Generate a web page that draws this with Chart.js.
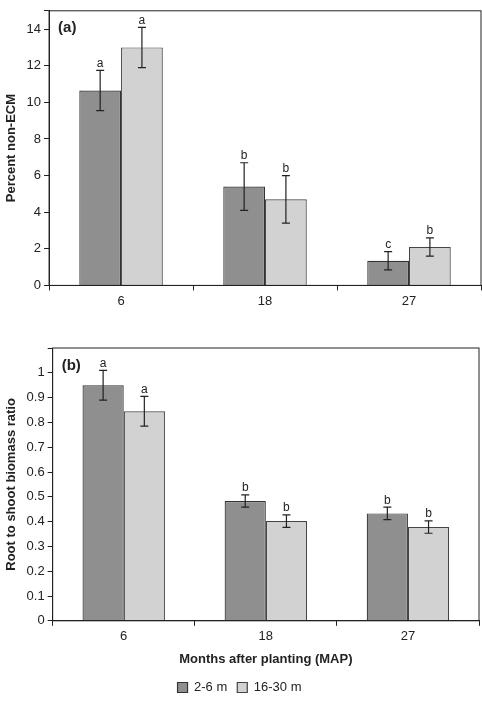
<!DOCTYPE html><html><head><style>body{margin:0;background:#fff}#a{position:absolute;left:0;top:0}#b{position:absolute;left:0;top:328px}</style>
<script src="https://cdn.jsdelivr.net/npm/chart.js@4"></script></head><body>
<div id="a" style="width:482px;height:312px"><canvas id="c1"></canvas></div>
<div id="b" style="width:482px;height:376px"><canvas id="c2"></canvas></div>
<script>
const categories=['6','18','27'];
const seriesNames=['2-6 m','16-30 m'];
const pctDark=[10.65,5.4,1.35], pctDarkErr=[1.1,1.3,0.5], pctDarkLet=['a','b','c'];
const pctLight=[13.0,4.7,2.1], pctLightErr=[1.1,1.3,0.5], pctLightLet=['a','b','b'];
const rsDark=[0.95,0.483,0.433], rsDarkErr=[0.06,0.025,0.025], rsDarkLet=['a','b','b'];
const rsLight=[0.845,0.402,0.378], rsLightErr=[0.06,0.025,0.025], rsLightLet=['a','b','b'];
const F='Liberation Sans, Arial, sans-serif';
Chart.defaults.font.family=F;Chart.defaults.color='#222';Chart.defaults.animation=false;
const errPlugin={id:'err',afterDatasetsDraw(ch,a,o){const c=ch.ctx,y=ch.scales.y;c.save();
 ch.data.datasets.forEach((ds,i)=>{ch.getDatasetMeta(i).data.forEach((b,j)=>{const v=ds.data[j],e=ds.err[j];
 const t=y.getPixelForValue(v+e),bt=y.getPixelForValue(v-e);c.strokeStyle='#222';c.lineWidth=1.2;c.beginPath();
 c.moveTo(b.x,t);c.lineTo(b.x,bt);c.moveTo(b.x-4,t);c.lineTo(b.x+4,t);c.moveTo(b.x-4,bt);c.lineTo(b.x+4,bt);c.stroke();
 c.fillStyle='#222';c.font='12px '+F;c.textAlign='center';c.textBaseline='bottom';c.fillText(ds.lets[j],b.x,t-1);});});
 const ar=ch.chartArea;c.strokeStyle='#222';c.lineWidth=1;c.strokeRect(ar.left,ar.top,ar.right-ar.left,ar.bottom-ar.top);
 c.font='bold 15px '+F;c.textAlign='left';c.textBaseline='top';c.fillText(o.label,ar.left+9,ar.top+10);c.restore();}};
function mk(id,d1,e1,l1,d2,e2,l2,max,step,maxLbl,ytitle,xtitle,legend,label,pad){
 return new Chart(document.getElementById(id),{type:'bar',data:{labels:categories,datasets:[
 {label:seriesNames[0],data:d1,err:e1,lets:l1,backgroundColor:'#8f8f8f',borderColor:'#333',borderWidth:1.2,categoryPercentage:0.58,barPercentage:1},
 {label:seriesNames[1],data:d2,err:e2,lets:l2,backgroundColor:'#d2d2d2',borderColor:'#444',borderWidth:1.2,categoryPercentage:0.58,barPercentage:1}]},
 options:{responsive:true,maintainAspectRatio:false,layout:{padding:pad},
 plugins:{legend:{display:legend,position:'bottom',labels:{boxWidth:10,boxHeight:10,font:{size:13},color:'#222'}},tooltip:{enabled:false},err:{label}},
 scales:{x:{grid:{display:true,drawOnChartArea:false,tickLength:5,offset:true,color:'#222'},border:{color:'#222'},ticks:{font:{size:13},color:'#222'},
  title:{display:!!xtitle,text:xtitle,font:{size:13,weight:'bold'},color:'#222'}},
 y:{min:0,max:max,grid:{display:true,drawOnChartArea:false,tickLength:5,color:'#222'},border:{color:'#222'},
  ticks:{stepSize:step,font:{size:13},color:'#222',callback:v=>v>maxLbl+1e-9?'':String(Math.round(v*10)/10)},
  title:{display:true,text:ytitle,font:{size:13,weight:'bold'},color:'#222'}}}},plugins:[errPlugin]});}
mk('c1',pctDark,pctDarkErr,pctDarkLet,pctLight,pctLightErr,pctLightLet,15,2,14,'Percent non-ECM','',false,'(a)',{top:1,right:1,bottom:0});
mk('c2',rsDark,rsDarkErr,rsDarkLet,rsLight,rsLightErr,rsLightLet,1.1,0.1,1,'Root to shoot biomass ratio','Months after planting (MAP)',true,'(b)',{top:20,right:3});
</script></body></html>
